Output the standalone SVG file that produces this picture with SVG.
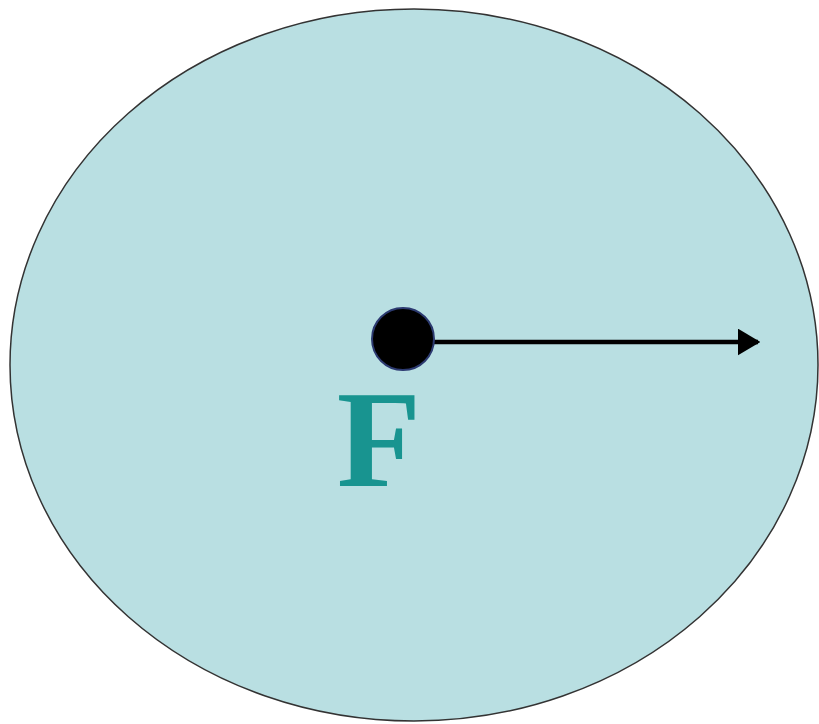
<svg xmlns="http://www.w3.org/2000/svg" width="819" height="724" viewBox="0 0 819 724">
<defs>
<marker id="ah" markerWidth="5" markerHeight="6" refX="4.5" refY="3" orient="auto" markerUnits="strokeWidth"><path d="M0,0 L5,3 L0,6 Z" fill="#000"/></marker>
</defs>
<rect width="819" height="724" fill="#fff"/>
<g id="region"><ellipse cx="414" cy="365" rx="404" ry="356" fill="#b9dfe2" stroke="#333" stroke-width="1.5"/></g>
<g id="connectors"><line x1="430" y1="342" x2="758" y2="342" stroke="#000" stroke-width="4.5" marker-end="url(#ah)"/></g>
<g id="focus"><circle cx="403" cy="339" r="31" fill="#000" stroke="#2c3a70" stroke-width="2"/></g>
<g id="label"><text x="379" y="486" text-anchor="middle" style="font-family:'Liberation Serif','Times New Roman',serif;font-weight:bold;font-size:138px" fill="#189490">F</text></g>
</svg>
